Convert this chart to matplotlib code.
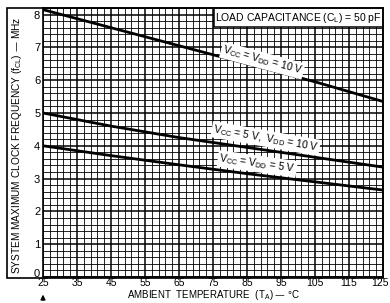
import numpy as np
import matplotlib.pyplot as plt
import matplotlib.transforms as mtransforms
from matplotlib.patches import Rectangle

plt.rcParams['font.family'] = ['Liberation Sans', 'DejaVu Sans']

# ambient temperature (deg C)
temp = [25, 45, 65, 85, 105, 125]
# max clock frequency (MHz)
f_10v = [8.15, 7.6, 7.05, 6.5, 5.95, 5.35]
f_5v_10v = [5.0, 4.6, 4.25, 3.95, 3.65, 3.35]
f_5v = [4.0, 3.7, 3.42, 3.15, 2.9, 2.65]

xticks = [25, 35, 45, 55, 65, 75, 85, 95, 105, 115, 125]
yticks = [0, 1, 2, 3, 4, 5, 6, 7, 8]

fig = plt.figure(figsize=(3.9, 3.03), dpi=100)
ax = fig.add_axes([43/390, 1-277/303, 340/390, 269/303])
ax.set_xlim(25, 125)
ax.set_ylim(0, 8.2)

# graph paper grid
for x in np.arange(25, 125.1, 2):
    major = (x - 25) % 10 == 0
    ax.axvline(x, color='black', lw=1.1 if major else 0.6, zorder=1)
for y in np.arange(0, 8.21, 0.2):
    major = abs(y - round(y)) < 1e-6
    ax.axhline(y, color='black', lw=1.1 if major else 0.6, zorder=1)

for f in (f_10v, f_5v_10v, f_5v):
    ax.plot(temp, f, color='black', lw=2.0, zorder=3)

ax.set_xticks(xticks)
ax.set_xticklabels([str(t) for t in xticks])
ax.set_yticks(yticks)
ax.tick_params(length=0, labelsize=8)
ax.tick_params(axis='x', pad=0.8, labelsize=7.5)
ax.tick_params(axis='y', pad=2)
for s in ax.spines.values():
    s.set_linewidth(1.2)

# keep 125 inside the picture
last = ax.get_xticklabels()[-1]
last.set_ha('right')
last.set_transform(last.get_transform() + mtransforms.ScaledTranslation(6/100, 0, fig.dpi_scale_trans))
# nudge 0 up, away from 25
first = ax.get_yticklabels()[0]
first.set_transform(first.get_transform() + mtransforms.ScaledTranslation(0, 4/100, fig.dpi_scale_trans))

# load capacitance box in top right corner
ax.add_patch(Rectangle((0.503, 0.93), 0.497, 0.07, transform=ax.transAxes,
                       facecolor='white', edgecolor='black', lw=1.1, zorder=5))
ax.text(0.75, 0.963, 'LOAD CAPACITANCE (C$_\\mathregular{L}$) = 50 pF', transform=ax.transAxes,
        ha='center', va='center', fontsize=7.5, zorder=6)

box = dict(facecolor='white', edgecolor='none', pad=1)
ax.text(89.5, 6.6, 'V$_\\mathregular{CC}$ = V$_\\mathregular{DD}$ = 10 V', ha='center', va='center',
        rotation=-15, fontsize=7.5, zorder=4, bbox=box)
ax.text(90.5, 4.22, 'V$_\\mathregular{CC}$ = 5 V,  V$_\\mathregular{DD}$ = 10 V', ha='center', va='center',
        rotation=-10, fontsize=7.5, zorder=4, bbox=box)
ax.text(88, 3.45, 'V$_\\mathregular{CC}$ = V$_\\mathregular{DD}$ = 5 V', ha='center', va='center',
        rotation=-8, fontsize=7.5, zorder=4, bbox=box)

fig.text(17/390, 1-145/303, 'SYSTEM MAXIMUM CLOCK FREQUENCY (f$_\\mathregular{CL}$) — MHz',
         rotation=90, ha='center', va='center', fontsize=7.3)
fig.text(213/390, 1-302.5/303, 'AMBIENT  TEMPERATURE  (T$_\\mathregular{A}$) — °C',
         ha='center', va='bottom', fontsize=7)

# outer frame around plot and y label
fig.patches.append(Rectangle((7/390, 1-278/303), 376/390, 270/303, transform=fig.transFigure,
                             fill=False, edgecolor='black', lw=1.2))

# arrow under 25
ax.annotate('', xy=(25, -0.45), xytext=(25, -0.78), xycoords='data',
            arrowprops=dict(arrowstyle='-|>', color='black', lw=1, mutation_scale=7),
            annotation_clip=False)

fig.savefig('out.png', dpi=100)
